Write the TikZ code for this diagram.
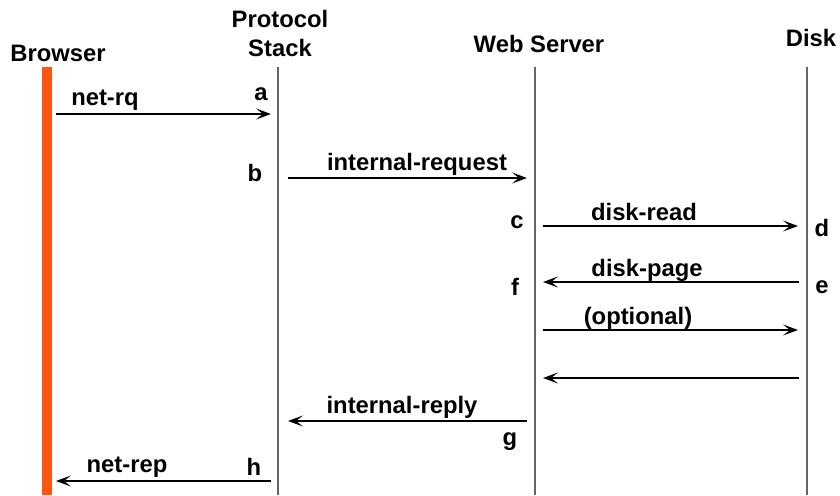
\documentclass[tikz,border=0pt]{standalone}
\usepackage{fontspec}
\setmainfont{Liberation Sans}
\usetikzlibrary{arrows.meta}
\definecolor{barorange}{HTML}{FF5511}
\definecolor{lifegray}{HTML}{666666}
\begin{document}
\begin{tikzpicture}[x=1pt,y=-1pt,
  lbl/.style={font=\fontsize{23.8}{29}\selectfont\bfseries, inner sep=0pt, align=center},
  lifeline/.style={draw=lifegray, line width=1.4pt},
  msg/.style={draw=black, line width=1.4pt, -{Stealth[length=15pt,width=11pt,inset=7pt]}}]
\useasboundingbox (0,0) rectangle (840,495);
% headers
\node[lbl] (browser) at (58,53) {Browser};
\node[lbl] (stack) at (280,33) {Protocol\\Stack};
\node[lbl] (server) at (539,44) {Web Server};
\node[lbl] (disk) at (811,38) {Disk};
% lifelines
\fill[barorange] (41.7,67) rectangle (52.3,495);
\coordinate (st0) at (278,67); \coordinate (st1) at (278,495);
\coordinate (ws0) at (535,67); \coordinate (ws1) at (535,495);
\coordinate (dk0) at (807,67); \coordinate (dk1) at (807,495);
\draw[lifeline] (st0) -- (st1);
\draw[lifeline] (ws0) -- (ws1);
\draw[lifeline] (dk0) -- (dk1);
% endpoints
\coordinate (m1a) at (56,114);  \coordinate (m1b) at (271,114);
\coordinate (m2a) at (288,178); \coordinate (m2b) at (527,178);
\coordinate (m3a) at (543,226); \coordinate (m3b) at (798,226);
\coordinate (m4a) at (799,282); \coordinate (m4b) at (543,282);
\coordinate (m5a) at (543,330); \coordinate (m5b) at (798,330);
\coordinate (m6a) at (799,378); \coordinate (m6b) at (543,378);
\coordinate (m7a) at (527,421); \coordinate (m7b) at (288,421);
\coordinate (m8a) at (271,481); \coordinate (m8b) at (56,481);
\draw[msg] (m1a) -- (m1b);
\draw[msg] (m2a) -- (m2b);
\draw[msg] (m3a) -- (m3b);
\draw[msg] (m4a) -- (m4b);
\draw[msg] (m5a) -- (m5b);
\draw[msg] (m6a) -- (m6b);
\draw[msg] (m7a) -- (m7b);
\draw[msg] (m8a) -- (m8b);
% message labels
\node[lbl] (lnetrq) at (105,100) {net-rq};
\node[lbl] (lireq) at (417,164) {internal-request};
\node[lbl] (ldread) at (644,212) {disk-read};
\node[lbl] (ldpage) at (647,270) {disk-page};
\node[lbl] (lopt) at (638,318) {(optional)};
\node[lbl] (lirep) at (402,407) {internal-reply};
\node[lbl] (lnetrep) at (127,467) {net-rep};
% event letters
\node[lbl] (ea) at (261,94) {a};
\node[lbl] (eb) at (255,173) {b};
\node[lbl] (ec) at (517,222) {c};
\node[lbl] (ed) at (822,228) {d};
\node[lbl] (ee) at (822,287) {e};
\node[lbl] (ef) at (515,287) {f};
\node[lbl] (eg) at (510,442) {g};
\node[lbl] (eh) at (254,467) {h};
\end{tikzpicture}
\end{document}
